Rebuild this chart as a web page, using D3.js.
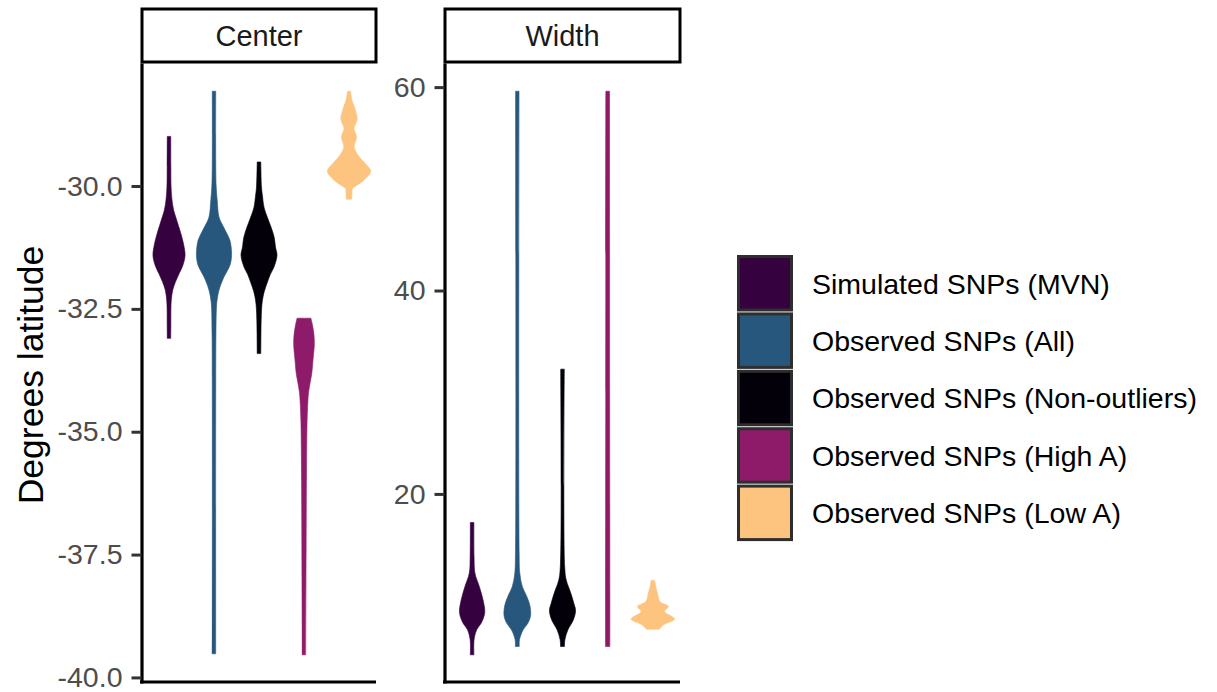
<!DOCTYPE html>
<html>
<head>
<meta charset="utf-8">
<script src="https://cdn.jsdelivr.net/npm/d3@7/dist/d3.min.js"></script>
<style>
  html, body { margin: 0; padding: 0; background: #fff; }
  svg { display: block; font-family: "Liberation Sans", Arial, sans-serif; }
</style>
</head>
<body>
<svg id="chart" width="1217" height="692"></svg>
<script>
// Groups shown in each facet, with their fill colours
const groups = [
  "Simulated SNPs (MVN)",
  "Observed SNPs (All)",
  "Observed SNPs (Non-outliers)",
  "Observed SNPs (High A)",
  "Observed SNPs (Low A)"
];
const groupColors = ["#36013F", "#27577C", "#03000A", "#8E1B6A", "#FDC47F"];

const facets = ["Center", "Width"];
const centerTicks = [-40, -37.5, -35, -32.5, -30];
const widthTicks = [20, 40, 60];

// Violin profiles: [value, relative density] (1 = widest violin)
const centerMVN = [[-28.99,.08],[-29.6,.085],[-30.02,.095],[-30.29,.14],[-30.5,.22],[-30.63,.31],[-30.8,.43],[-30.97,.55],[-31.2,.68],[-31.41,.74],[-31.6,.65],[-31.78,.47],[-31.95,.3],[-32.12,.17],[-32.3,.11],[-32.46,.09],[-32.8,.085],[-33.10,.08]];
const centerAll = [[-28.07,.08],[-29.5,.08],[-30.0,.1],[-30.3,.15],[-30.63,.23],[-30.8,.4],[-30.97,.6],[-31.1,.73],[-31.24,.79],[-31.41,.81],[-31.58,.76],[-31.72,.62],[-31.85,.46],[-32.0,.32],[-32.12,.23],[-32.3,.15],[-32.46,.115],[-33.0,.09],[-34.0,.08],[-39.52,.078]];
const centerNonOutliers = [[-29.51,.083],[-30.02,.115],[-30.2,.16],[-30.43,.23],[-30.63,.38],[-30.83,.55],[-31.04,.7],[-31.24,.76],[-31.41,.83],[-31.65,.69],[-31.8,.52],[-31.98,.37],[-32.15,.24],[-32.32,.16],[-32.5,.12],[-32.73,.1],[-33.0,.09],[-33.41,.083]];
const centerHighA = [[-32.69,.32],[-32.83,.39],[-33.03,.46],[-33.24,.475],[-33.54,.415],[-33.81,.36],[-34.01,.28],[-34.2,.21],[-34.42,.175],[-34.82,.14],[-35.84,.115],[-37.2,.1],[-39.54,.08]];
const centerLowA = [[-28.07,.07],[-28.26,.14],[-28.39,.25],[-28.53,.34],[-28.63,.38],[-28.73,.31],[-28.83,.23],[-29.0,.35],[-29.21,.24],[-29.41,.48],[-29.54,.75],[-29.70,1.0],[-29.88,.69],[-29.99,.35],[-30.05,.16],[-30.15,.14],[-30.27,.12]];

const widthMVN = [[17.19,.083],[13.85,.09],[12.21,.13],[10.9,.33],[9.59,.5],[8.34,.58],[7.3,.42],[6.64,.21],[5.66,.09],[4.18,.083]];
const widthAll = [[59.6,.08],[14.18,.085],[12.21,.115],[10.9,.23],[9.9,.44],[9.0,.58],[8.04,.61],[7.3,.49],[6.64,.27],[5.66,.1],[5.0,.09]];
const widthNonOutliers = [[32.27,.083],[12.86,.1],[11.55,.17],[10.25,.38],[9.26,.52],[8.54,.6],[7.62,.5],[6.64,.25],[5.66,.11],[5.0,.09]];
const widthHighA = [[59.6,.085],[30,.09],[10,.1],[5.0,.1]];
const widthLowA = [[11.49,.08],[10.9,.13],[10.25,.21],[9.42,.32],[8.93,.71],[8.43,.54],[7.69,1.0],[7.13,.5],[6.7,.3]];

const centerProfiles = [centerMVN, centerAll, centerNonOutliers, centerHighA, centerLowA];
const widthProfiles = [widthMVN, widthAll, widthNonOutliers, widthHighA, widthLowA];

// plain hyphen for negative numbers
const locale = d3.formatLocale({ decimal: ".", thousands: ",", grouping: [3], currency: ["", ""], minus: "-" });

const svg = d3.select("#chart");
const panelTop = 63, panelBottom = 683;
const stripTop = 9, stripBottom = 62;

const panels = [
  { name: facets[0], x0: 142, x1: 376, profiles: centerProfiles, ticks: centerTicks, fmt: locale.format(".1f") },
  { name: facets[1], x0: 445, x1: 680, profiles: widthProfiles, ticks: widthTicks, fmt: locale.format("d") }
];

panels.forEach(p => {
  // y domain: data range expanded by 5% on both sides
  const ext = d3.extent(p.profiles.flat(), d => d[0]);
  const pad = (ext[1] - ext[0]) * 0.05;
  const y = d3.scaleLinear().domain([ext[0] - pad, ext[1] + pad]).range([panelBottom, panelTop]);
  const x = d3.scalePoint().domain(groups).range([p.x0, p.x1]).padding(0.6);
  const w = d3.scaleLinear().domain([0, 1]).range([0, x.step() * 0.482]);

  const g = svg.append("g");

  // violins
  p.profiles.forEach((prof, i) => {
    const cx = x(groups[i]);
    const area = d3.area()
      .y(d => y(d[0]))
      .x0(d => cx - w(d[1]))
      .x1(d => cx + w(d[1]))
      .curve(d3.curveCatmullRom.alpha(0.5));
    g.append("path")
      .attr("d", area(prof))
      .attr("fill", groupColors[i])
      .attr("stroke", groupColors[i])
      .attr("stroke-width", 0.6);
  });

  // y axis
  const yAxis = d3.axisLeft(y).tickValues(p.ticks).tickFormat(p.fmt).tickSize(10).tickSizeOuter(0).tickPadding(9);
  const ya = g.append("g").attr("transform", `translate(${p.x0 - 0.5},0)`).call(yAxis);
  ya.select(".domain").attr("stroke", "#000").attr("stroke-width", 3.2);
  ya.selectAll(".tick line").attr("stroke", "#333").attr("stroke-width", 3);
  ya.selectAll(".tick text").attr("fill", "#4D4D4D").attr("font-size", 28.5)
    .attr("font-family", "Liberation Sans, Arial, sans-serif");

  // x axis (no ticks)
  const xAxis = d3.axisBottom(x).tickValues([]).tickSizeOuter(0);
  const xa = g.append("g").attr("transform", `translate(0,${panelBottom - 1})`).call(xAxis);
  xa.select(".domain").attr("stroke", "#000").attr("stroke-width", 3.2)
    .attr("d", `M${p.x0 - 2},0H${p.x1}`);

  // strip
  g.append("rect")
    .attr("x", p.x0).attr("y", stripTop)
    .attr("width", p.x1 - p.x0).attr("height", stripBottom - stripTop)
    .attr("fill", "#fff").attr("stroke", "#000").attr("stroke-width", 3);
  g.append("text")
    .attr("x", (p.x0 + p.x1) / 2).attr("y", (stripTop + stripBottom) / 2)
    .attr("text-anchor", "middle").attr("dominant-baseline", "central")
    .attr("font-size", 29).attr("fill", "#1A1A1A")
    .text(p.name);
});

// y axis title
svg.append("text")
  .attr("transform", `translate(43,${(panelTop + panelBottom) / 2 + 2}) rotate(-90)`)
  .attr("text-anchor", "middle")
  .attr("font-size", 35.5).attr("fill", "#000")
  .text("Degrees latitude");

// legend
const legend = svg.append("g").attr("transform", "translate(737,255)");
const keyStep = 57.4;
groups.forEach((name, i) => {
  legend.append("rect")
    .attr("x", 1.5).attr("y", i * keyStep + 1.5)
    .attr("width", 53).attr("height", 53.5)
    .attr("fill", groupColors[i]).attr("stroke", "#2E2E2E").attr("stroke-width", 3);
  legend.append("text")
    .attr("x", 75).attr("y", i * keyStep + 28.5)
    .attr("dominant-baseline", "central")
    .attr("font-size", 28.5).attr("fill", "#000")
    .text(name);
});
</script>
</body>
</html>
